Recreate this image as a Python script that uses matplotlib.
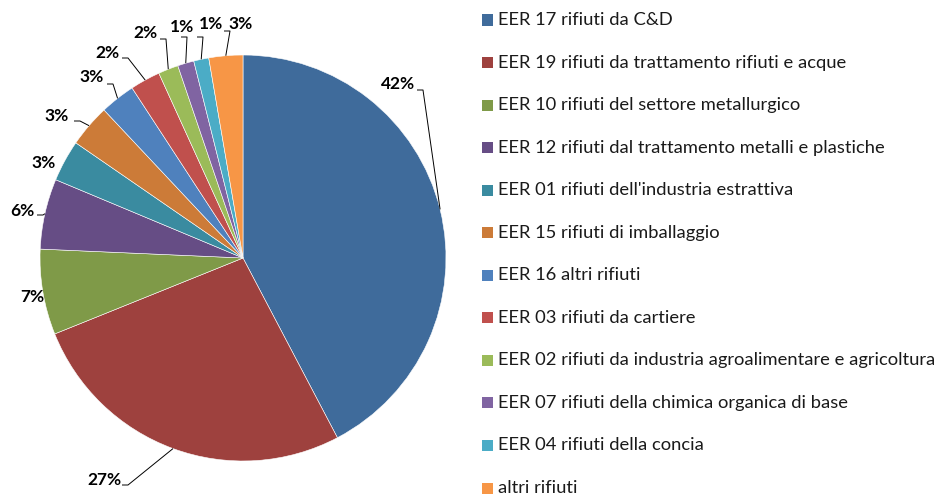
import numpy as np
import matplotlib
matplotlib.use('Agg')
import matplotlib.pyplot as plt
from matplotlib.patches import Rectangle

categories = [
    'EER 17 rifiuti da C&D',
    'EER 19 rifiuti da trattamento rifiuti e acque',
    'EER 10 rifiuti del settore metallurgico',
    'EER 12 rifiuti dal trattamento metalli e plastiche',
    "EER 01 rifiuti dell'industria estrattiva",
    'EER 15 rifiuti di imballaggio',
    'EER 16 altri rifiuti',
    'EER 03 rifiuti da cartiere',
    'EER 02 rifiuti da industria agroalimentare e agricoltura',
    'EER 07 rifiuti della chimica organica di base',
    'EER 04 rifiuti della concia',
    'altri rifiuti',
]
shares = [42.3, 26.6, 6.8, 5.6, 3.3, 3.4, 2.8, 2.4, 1.6, 1.3, 1.2, 2.7]
colors = ['#3F6B9B', '#9E413E', '#7F9A48', '#664D85', '#3A8BA0', '#CC7B38',
          '#4F81BD', '#C0504D', '#9BBB59', '#8064A2', '#4BACC6', '#F79646']

# label layout (pixels in the 936x495 image): text centre and leader knee
label_xy = [(398, 84), (104, 480), (32, 297), (22, 211), (44, 163), (57, 116),
            (92, 77), (107, 53), (145, 33), (182, 27), (211, 24), (241, 24)]
knee_xy = [(423, 90), (128, 485), None, (43, 215), None, (80, 121),
           (113, 84), (128, 58), (166, 39), (187, 37), (203, 37), (230, 31)]

W, H = 936, 495
CX, CY, R = 243, 258, 203

fig = plt.figure(figsize=(W / 100, H / 100), dpi=100)
ax = fig.add_axes([0, 0, 2 * CX / W, 1])


def px2d(px, py):
    return (px - CX) / R, (CY - py) / R


wedges, _ = ax.pie(shares, colors=colors, startangle=90, counterclock=False,
                   radius=1, wedgeprops=dict(edgecolor='white', linewidth=0.4))
ax.set_aspect('auto')
ax.set_xlim(-CX / R, CX / R)
ax.set_ylim(-(H - CY) / R, CY / R)
ax.axis('off')

total = sum(shares)
cum = np.cumsum([0] + shares[:-1])
for i, v in enumerate(shares):
    theta = np.radians(360 * (cum[i] + v / 2) / total)
    anchor = (np.sin(theta), np.cos(theta))
    tx, ty = px2d(*label_xy[i])
    ax.text(tx, ty, f'{round(v)}%', ha='center', va='center',
            fontsize=12.5, fontweight='bold', family='Lato', color='black')
    if knee_xy[i] is not None:
        kx, ky = knee_xy[i]
        p0 = px2d(kx - 6, ky)
        p1 = px2d(kx, ky)
        ax.plot([p0[0], p1[0], anchor[0]], [p0[1], p1[1], anchor[1]],
                color='black', lw=0.7, solid_capstyle='butt')

# legend, drawn by hand to match the spacing
for i, (name, c) in enumerate(zip(categories, colors)):
    yc = 20 + i * 42.55
    fig.add_artist(Rectangle((482 / W, 1 - (yc + 5.5) / H), 11 / W, 11 / H,
                             transform=fig.transFigure, facecolor=c, edgecolor='none'))
    fig.text(498 / W, 1 - yc / H, name, ha='left', va='center',
             fontsize=13.2, family='Lato', color='#1a1a1a')

fig.savefig('out.png', dpi=100)
